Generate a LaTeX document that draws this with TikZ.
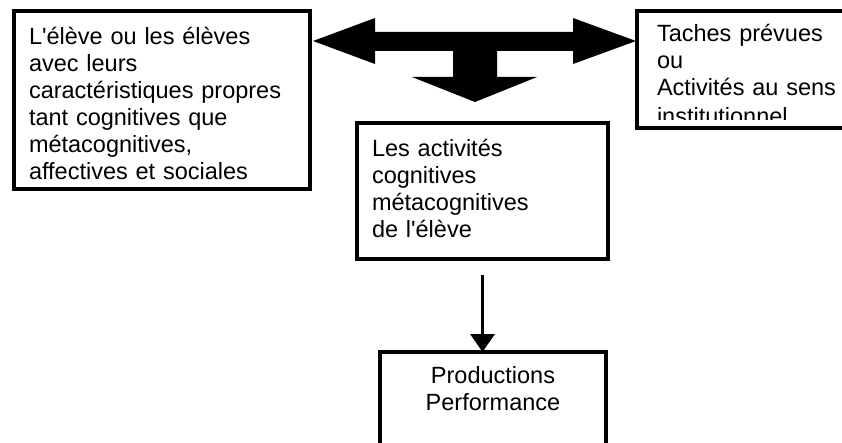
\documentclass[tikz,border=0pt]{standalone}
\usepackage{fontspec}
\setmainfont{Liberation Sans}[Ligatures=TeXOff]
\usetikzlibrary{arrows.meta}

\tikzset{
  boite/.style={draw, line width=3.5pt, outer sep=0pt, inner xsep=15pt, inner ysep=0pt,
    anchor=north west, align=left, font=\fontsize{23.5}{27}\selectfont},
  fleche/.style={line width=3.5pt, -{Triangle[width=24pt,length=18pt]}}
}

\begin{document}
\begin{tikzpicture}[x=1pt,y=-1pt]
  \useasboundingbox (0,0) rectangle (842,443);
  \clip (0,0) rectangle (842,443);

  \node[boite, text width=266pt, text height=34pt, text depth=144pt] (eleve) at (14,11)
    {L'élève ou les élèves\\avec leurs\\caractéristiques propres\\tant cognitives que\\métacognitives,\\affectives et sociales};
  \node[boite, text width=221pt, text height=34pt, text depth=102pt] (activites) at (357,123)
    {Les activités\\cognitives\\métacognitives\\de l'élève};
  \node[boite, align=center, inner xsep=14pt, text width=198pt, text height=31pt, text depth=87pt] (prod) at (380,352)
    {Productions\\Performance};

  % texte coupe par le bas du cadre
  \begin{scope}
    \clip (630,0) rectangle (842,119.5);
    \node[boite, draw=none, inner xsep=20pt, text width=183pt, text height=31pt, text depth=86pt] (taches) at (637,11)
      {Taches prévues\\ou\\Activités au sens\\[1.5pt]institutionnel};
  \end{scope}
  \draw[line width=3.5pt] (taches.north west) rectangle (taches.south east);

  % grande fleche
  \fill (313,41) -- (375,18) -- (375,32) -- (573,32) -- (573,18) -- (636,41)
    -- (573,64) -- (573,51) -- (497,51) -- (497,77) -- (537,77) -- (475,102)
    -- (412,77) -- (453,77) -- (453,51) -- (375,51) -- (375,64) -- cycle;

  \draw[fleche] ([yshift=-16pt]activites.south) -- (activites.south |- prod.north);
\end{tikzpicture}
\end{document}
